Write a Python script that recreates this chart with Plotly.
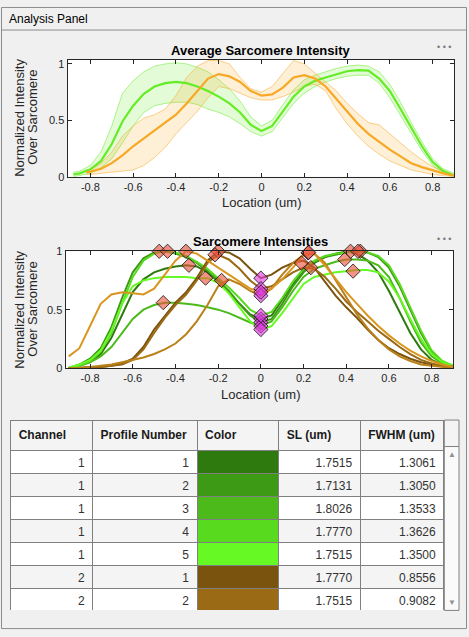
import plotly.graph_objects as go

W, H = 469, 637
FONT = "'Liberation Sans', Arial, Helvetica, sans-serif"

# ---------------- data: average profiles (top plot) ----------------
avg_green_x = [-0.88, -0.85, -0.80, -0.75, -0.70, -0.65, -0.60, -0.55, -0.50, -0.45, -0.40, -0.35,
               -0.30, -0.25, -0.20, -0.15, -0.10, -0.05, 0.00, 0.05, 0.10, 0.15, 0.20, 0.25,
               0.30, 0.35, 0.40, 0.45, 0.50, 0.55, 0.60, 0.65, 0.70, 0.75, 0.80, 0.85, 0.90]
avg_green_mean = [0.02, 0.03, 0.065, 0.14, 0.29, 0.49, 0.63, 0.735, 0.80, 0.83, 0.84, 0.83,
                  0.80, 0.76, 0.71, 0.65, 0.57, 0.46, 0.405, 0.45, 0.58, 0.71, 0.80, 0.85,
                  0.88, 0.91, 0.935, 0.945, 0.94, 0.87, 0.76, 0.60, 0.43, 0.27, 0.13, 0.05, 0.01]
avg_green_upper = [0.04, 0.05, 0.10, 0.22, 0.45, 0.74, 0.85, 0.93, 0.98, 1.00, 1.01, 1.00,
                   0.97, 0.93, 0.86, 0.78, 0.67, 0.53, 0.45, 0.50, 0.64, 0.77, 0.86, 0.90,
                   0.93, 0.96, 0.98, 0.99, 0.98, 0.93, 0.82, 0.66, 0.48, 0.31, 0.16, 0.07, 0.03]
avg_green_lower = [0.00, 0.01, 0.03, 0.08, 0.16, 0.30, 0.45, 0.57, 0.63, 0.65, 0.66, 0.66,
                   0.64, 0.60, 0.57, 0.53, 0.47, 0.40, 0.36, 0.40, 0.52, 0.65, 0.74, 0.80,
                   0.84, 0.87, 0.89, 0.90, 0.90, 0.83, 0.70, 0.54, 0.38, 0.23, 0.10, 0.03, 0.00]

avg_orange_x = [-0.82, -0.80, -0.75, -0.70, -0.65, -0.60, -0.55, -0.50, -0.45, -0.40, -0.35,
                -0.30, -0.25, -0.20, -0.15, -0.10, -0.05, 0.00, 0.05, 0.10, 0.15, 0.20, 0.25,
                0.30, 0.35, 0.40, 0.45, 0.50, 0.55, 0.60, 0.65, 0.70, 0.75, 0.80, 0.85, 0.90]
avg_orange_mean = [0.04, 0.045, 0.07, 0.12, 0.19, 0.27, 0.34, 0.41, 0.48, 0.55, 0.65,
                   0.76, 0.87, 0.91, 0.89, 0.84, 0.76, 0.72, 0.73, 0.79, 0.88, 0.90, 0.87,
                   0.80, 0.69, 0.57, 0.47, 0.38, 0.31, 0.24, 0.18, 0.12, 0.085, 0.055, 0.03, 0.01]
avg_orange_upper = [0.06, 0.06, 0.12, 0.22, 0.36, 0.45, 0.52, 0.55, 0.60, 0.72, 0.88,
                    0.98, 1.03, 1.03, 1.00, 0.88, 0.78, 0.75, 0.80, 0.92, 1.03, 1.00, 0.92,
                    0.84, 0.76, 0.65, 0.56, 0.48, 0.46, 0.38, 0.30, 0.22, 0.15, 0.09, 0.05, 0.02]
avg_orange_lower = [0.02, 0.02, 0.03, 0.04, 0.05, 0.06, 0.10, 0.17, 0.26, 0.38, 0.48,
                    0.58, 0.70, 0.80, 0.78, 0.74, 0.70, 0.68, 0.68, 0.71, 0.75, 0.80, 0.82,
                    0.76, 0.60, 0.47, 0.36, 0.27, 0.20, 0.14, 0.10, 0.06, 0.04, 0.02, 0.01, 0.00]

# ---------------- data: individual profiles (middle plot) ----------------
profile_x = [-0.90, -0.85, -0.80, -0.75, -0.70, -0.65, -0.60, -0.55, -0.50, -0.45, -0.40, -0.35,
             -0.30, -0.25, -0.20, -0.15, -0.10, -0.05, 0.00, 0.05, 0.10, 0.15, 0.20, 0.25,
             0.30, 0.35, 0.40, 0.45, 0.50, 0.55, 0.60, 0.65, 0.70, 0.75, 0.80, 0.85, 0.90]
ch1_p1 = [0.00, 0.02, 0.05, 0.12, 0.26, 0.45, 0.65, 0.76, 0.82, 0.85, 0.87, 0.88, 0.87, 0.82,
          0.74, 0.65, 0.55, 0.46, 0.42, 0.45, 0.58, 0.72, 0.83, 0.90, 0.95, 0.98, 1.00, 0.98,
          0.92, 0.82, 0.66, 0.48, 0.30, 0.16, 0.07, 0.03, 0.01]
ch1_p2 = [0.00, 0.03, 0.08, 0.17, 0.35, 0.60, 0.82, 0.94, 0.99, 1.00, 0.98, 0.95, 0.90, 0.83,
          0.75, 0.66, 0.55, 0.45, 0.39, 0.42, 0.55, 0.70, 0.82, 0.90, 0.95, 0.97, 0.99, 1.00,
          0.99, 0.95, 0.86, 0.70, 0.50, 0.30, 0.14, 0.05, 0.02]
ch1_p3 = [0.00, 0.02, 0.05, 0.10, 0.18, 0.30, 0.42, 0.50, 0.54, 0.56, 0.56, 0.55, 0.54, 0.52,
          0.50, 0.47, 0.43, 0.39, 0.36, 0.40, 0.52, 0.66, 0.78, 0.85, 0.88, 0.91, 0.93, 0.93,
          0.92, 0.88, 0.78, 0.60, 0.40, 0.22, 0.10, 0.04, 0.01]
ch1_p4 = [0.00, 0.02, 0.06, 0.14, 0.30, 0.55, 0.78, 0.92, 0.98, 1.00, 0.99, 0.96, 0.91, 0.85,
          0.77, 0.69, 0.60, 0.50, 0.45, 0.48, 0.60, 0.74, 0.85, 0.92, 0.96, 0.98, 0.99, 1.00,
          0.99, 0.96, 0.88, 0.72, 0.52, 0.32, 0.15, 0.06, 0.02]
ch1_p5 = [0.00, 0.03, 0.07, 0.15, 0.32, 0.55, 0.70, 0.75, 0.77, 0.78, 0.78, 0.78, 0.77, 0.77,
          0.73, 0.64, 0.52, 0.40, 0.33, 0.36, 0.47, 0.60, 0.72, 0.78, 0.80, 0.82, 0.83, 0.84,
          0.84, 0.82, 0.74, 0.60, 0.42, 0.25, 0.12, 0.05, 0.02]
ch2_p1 = [0.00, 0.00, 0.01, 0.01, 0.02, 0.04, 0.08, 0.18, 0.33, 0.45, 0.56, 0.65, 0.77, 0.92,
          1.00, 0.99, 0.94, 0.85, 0.77, 0.80, 0.86, 0.90, 0.92, 0.86, 0.74, 0.62, 0.52, 0.43,
          0.33, 0.24, 0.17, 0.12, 0.08, 0.05, 0.03, 0.02, 0.01]
ch2_p2 = [0.00, 0.00, 0.01, 0.01, 0.02, 0.03, 0.07, 0.16, 0.30, 0.43, 0.54, 0.63, 0.75, 0.90,
          0.97, 0.93, 0.85, 0.75, 0.68, 0.70, 0.76, 0.82, 0.86, 0.85, 0.78, 0.68, 0.57, 0.48,
          0.40, 0.32, 0.25, 0.18, 0.12, 0.07, 0.04, 0.02, 0.01]
ch2_p3 = [0.00, 0.00, 0.01, 0.02, 0.03, 0.05, 0.07, 0.09, 0.12, 0.16, 0.21, 0.29, 0.40, 0.54,
          0.70, 0.76, 0.72, 0.66, 0.62, 0.68, 0.80, 0.90, 0.97, 0.98, 0.90, 0.75, 0.60, 0.46,
          0.34, 0.24, 0.16, 0.10, 0.06, 0.03, 0.02, 0.01, 0.00]
ch2_p4 = [0.10, 0.17, 0.36, 0.55, 0.63, 0.65, 0.64, 0.63, 0.68, 0.80, 0.92, 1.00, 0.98, 0.92,
          0.86, 0.80, 0.74, 0.68, 0.65, 0.68, 0.76, 0.86, 0.97, 0.98, 0.88, 0.76, 0.65, 0.55,
          0.45, 0.36, 0.28, 0.21, 0.15, 0.10, 0.06, 0.03, 0.01]
profiles = [ch1_p1, ch1_p2, ch1_p3, ch1_p4, ch1_p5, ch2_p1, ch2_p2, ch2_p3, ch2_p4]

peak_left_x = [-0.337, -0.476, -0.457, -0.437, -0.259, -0.200, -0.215, -0.184, -0.351]
peak_left_y = [0.88, 1.00, 0.56, 1.00, 0.77, 1.00, 0.97, 0.75, 1.00]
peak_right_x = [0.420, 0.466, 0.393, 0.455, 0.432, 0.190, 0.234, 0.221, 0.224]
peak_right_y = [1.00, 1.00, 0.93, 1.00, 0.83, 0.90, 0.86, 0.986, 0.99]
min_x = [0, 0, 0, 0, 0, 0, 0, 0, 0]
min_y = [0.42, 0.39, 0.36, 0.45, 0.33, 0.77, 0.68, 0.62, 0.65]

# ---------------- data: table ----------------
tbl_headers = ['Channel', 'Profile Number', 'Color', 'SL (um)', 'FWHM (um)']
tbl_channel = [1, 1, 1, 1, 1, 2, 2, 2, 2]
tbl_profile = [1, 2, 3, 4, 5, 1, 2, 3, 4]
tbl_sl = [1.7515, 1.7131, 1.8026, 1.7770, 1.7515, 1.7770, 1.7515, 1.7131, 1.7770]
tbl_fwhm = [1.3061, 1.3050, 1.3533, 1.3626, 1.3500, 0.8556, 0.9082, 0.8823, 0.9314]
profile_colors = ['rgb(47,122,14)', 'rgb(61,154,20)', 'rgb(75,186,26)', 'rgb(88,218,31)',
                  'rgb(102,249,36)', 'rgb(122,83,14)', 'rgb(154,106,20)', 'rgb(186,128,26)',
                  'rgb(217,150,31)']

x_tick_vals = [-0.8, -0.6, -0.4, -0.2, 0, 0.2, 0.4, 0.6, 0.8]
x_tick_text = ['-0.8', '-0.6', '-0.4', '-0.2', '0', '0.2', '0.4', '0.6', '0.8']
y_tick_vals = [0, 0.5, 1]
y_tick_text = ['0', '0.5', '1']

GREEN = 'rgb(100,236,36)'
ORANGE = 'rgb(247,168,36)'


def px_x(p):
    return p / W


def px_y(p):
    return 1 - p / H


fig = go.Figure()

# ---- top plot: shaded bands + means ----
for xs, lo, up, col_edge, col_fill in [
    (avg_green_x, avg_green_lower, avg_green_upper, 'rgba(100,236,36,0.5)', 'rgba(100,236,36,0.18)'),
    (avg_orange_x, avg_orange_lower, avg_orange_upper, 'rgba(247,168,36,0.5)', 'rgba(247,168,36,0.18)'),
]:
    fig.add_trace(go.Scatter(x=xs, y=lo, mode='lines', line=dict(color=col_edge, width=1),
                             xaxis='x', yaxis='y', showlegend=False, hoverinfo='skip'))
    fig.add_trace(go.Scatter(x=xs, y=up, mode='lines', line=dict(color=col_edge, width=1),
                             fill='tonexty', fillcolor=col_fill,
                             xaxis='x', yaxis='y', showlegend=False, hoverinfo='skip'))
fig.add_trace(go.Scatter(x=avg_green_x, y=avg_green_mean, mode='lines',
                         line=dict(color=GREEN, width=2.2), xaxis='x', yaxis='y', showlegend=False))
fig.add_trace(go.Scatter(x=avg_orange_x, y=avg_orange_mean, mode='lines',
                         line=dict(color=ORANGE, width=2.2), xaxis='x', yaxis='y', showlegend=False))

# ---- middle plot: individual profiles ----
for ys, col in zip(profiles, profile_colors):
    fig.add_trace(go.Scatter(x=profile_x, y=ys, mode='lines', line=dict(color=col, width=2),
                             xaxis='x2', yaxis='y2', showlegend=False))

diamond_peak = dict(symbol='diamond', size=11, color='rgba(236,80,60,0.62)',
                    line=dict(color='#111111', width=0.8))
diamond_min = dict(symbol='diamond', size=11, color='rgba(224,60,224,0.62)',
                   line=dict(color='#111111', width=0.8))
fig.add_trace(go.Scatter(x=peak_left_x, y=peak_left_y, mode='markers', marker=diamond_peak,
                         cliponaxis=False, xaxis='x2', yaxis='y2', showlegend=False))
fig.add_trace(go.Scatter(x=peak_right_x, y=peak_right_y, mode='markers', marker=diamond_peak,
                         cliponaxis=False, xaxis='x2', yaxis='y2', showlegend=False))
fig.add_trace(go.Scatter(x=min_x, y=min_y, mode='markers', marker=diamond_min,
                         cliponaxis=False, xaxis='x2', yaxis='y2', showlegend=False))

# ---- table ----
row_fill = ['#ffffff' if i % 2 == 0 else '#f4f4f4' for i in range(len(tbl_channel))]
fig.add_trace(go.Table(
    domain=dict(x=[px_x(10.7), px_x(444.3)], y=[px_y(616), px_y(422)]),
    columnwidth=[82, 104.6, 81.7, 81.7, 83.6],
    header=dict(values=['<b>' + h.replace(' ', '\u00a0') + '</b>' for h in tbl_headers],
                align='left', height=27, fill_color='#f4f4f4',
                line=dict(color='#808080', width=1),
                font=dict(family=FONT, size=12, color='#1a1a1a')),
    cells=dict(values=[[str(v) for v in tbl_channel], [str(v) for v in tbl_profile],
                       ['' for _ in tbl_channel],
                       [f'{v:.4f}' for v in tbl_sl], [f'{v:.4f}' for v in tbl_fwhm]],
               align='right', height=23,
               fill_color=[row_fill, row_fill, profile_colors, row_fill, row_fill],
               line=dict(color='#808080', width=1),
               font=dict(family=FONT, size=12, color='#333333')),
))

axis_common = dict(ticks='inside', ticklen=4, tickwidth=1, tickcolor='#262626', showline=True,
                   linecolor='#262626', linewidth=1, mirror='ticks', showgrid=False,
                   zeroline=False, fixedrange=True,
                   tickfont=dict(family=FONT, size=11, color='#262626'))

shapes = [
    dict(type='rect', xref='paper', yref='paper', x0=px_x(1.5), x1=px_x(466.5),
         y0=px_y(634.5), y1=px_y(1.5), line=dict(color='#8c8c8c', width=1), layer='below'),
    dict(type='line', xref='paper', yref='paper', x0=px_x(1.5), x1=px_x(466.5),
         y0=px_y(24.5), y1=px_y(24.5), line=dict(color='#8c8c8c', width=1), layer='below'),
    # scrollbar gutter of the table
    dict(type='rect', xref='paper', yref='paper', x0=px_x(444.3), x1=px_x(459),
         y0=px_y(449), y1=px_y(422), fillcolor='#f4f4f4', line=dict(color='#808080', width=1),
         layer='below'),
    dict(type='rect', xref='paper', yref='paper', x0=px_x(444.3), x1=px_x(459),
         y0=px_y(616), y1=px_y(449), fillcolor='#fafafa', line=dict(color='#808080', width=1),
         layer='below'),
]

ann = []


def add_text(text, x, y, size, color='#262626', angle=0, xanchor='center', bold=False):
    ann.append(dict(text=(f'<b>{text}</b>' if bold else text), x=px_x(x), y=px_y(y),
                    xref='paper', yref='paper', showarrow=False, textangle=angle,
                    xanchor=xanchor, yanchor='middle',
                    font=dict(family=FONT, size=size, color=color)))


add_text('Analysis Panel', 7, 13.5, 12, '#000000', xanchor='left')
# top plot texts
add_text('Average Sarcomere Intensity', 260, 45, 13, '#000000', bold=True)
add_text('Location (um)', 261, 200.5, 13)
add_text('Normalized Intensity', 20, 114, 13, angle=-90)
add_text('Over Sarcomere', 33, 114, 13, angle=-90)
add_text('• • •', 444, 42, 9, '#7a7a7a')
# middle plot texts
add_text('Sarcomere Intensities', 260, 240, 13, '#000000', bold=True)
add_text('Location (um)', 260, 395.5, 13)
add_text('Normalized Intensity', 20, 309.5, 13, angle=-90)
add_text('Over Sarcomere', 33, 309.5, 13, angle=-90)
add_text('• • •', 444, 237, 9, '#7a7a7a')
# scroll arrows
add_text('▲', 451.5, 457, 8, '#909090')
add_text('▼', 451.5, 608, 8, '#909090')

fig.update_layout(
    width=W, height=H, autosize=False,
    margin=dict(l=0, r=0, t=0, b=0),
    paper_bgcolor='#f0f0f0', plot_bgcolor='#ffffff',
    showlegend=False,
    xaxis=dict(domain=[px_x(67.5), px_x(454)], range=[-0.907, 0.9], anchor='y',
               tickvals=x_tick_vals, ticktext=x_tick_text, **axis_common),
    yaxis=dict(domain=[px_y(174), px_y(55)], range=[0, 1.035], anchor='x',
               tickvals=y_tick_vals, ticktext=y_tick_text, **axis_common),
    xaxis2=dict(domain=[px_x(65.5), px_x(453)], range=[-0.915, 0.9], anchor='y2',
                tickvals=x_tick_vals, ticktext=x_tick_text, **axis_common),
    yaxis2=dict(domain=[px_y(369), px_y(250)], range=[0, 1], anchor='x2',
                tickvals=y_tick_vals, ticktext=y_tick_text, **axis_common),
    shapes=shapes,
    annotations=ann,
)

fig.write_html('out.html', config={'displayModeBar': False})
